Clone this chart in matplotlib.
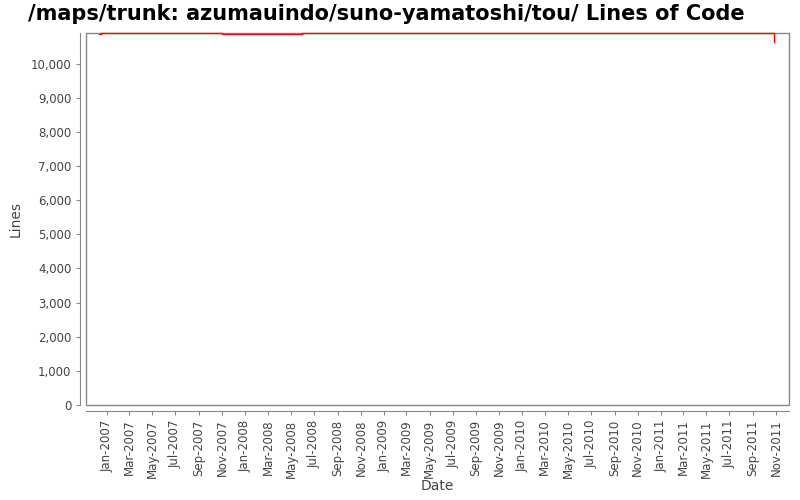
import matplotlib
matplotlib.use("Agg")
import matplotlib.pyplot as plt
import matplotlib.dates as mdates
from matplotlib.patches import Rectangle
from matplotlib.ticker import FuncFormatter, MultipleLocator
import numpy as np
import datetime as dt

dates = ["2006-12-12", "2006-12-16", "2007-10-31", "2008-05-30", "2011-10-27"]
lines = [10870, 10900, 10870, 10900, 10640]
title = "/maps/trunk: azumauindo/suno-yamatoshi/tou/ Lines of Code"

x = [dt.datetime.strptime(d, "%Y-%m-%d") for d in dates]

fig = plt.figure(figsize=(8, 5), dpi=100)
ax = fig.add_axes([86/800, 1-405/500, (789-86)/800, (405-33)/500])

ax.step(x, lines, where="post", color="#ff0000", lw=1.0, clip_on=False, zorder=3)

ax.set_xlim(dt.datetime(2006, 11, 7), dt.datetime(2011, 12, 5))
ax.set_ylim(0, 10900)

ax.yaxis.set_major_locator(MultipleLocator(1000))
ax.yaxis.set_major_formatter(FuncFormatter(lambda v, p: f"{int(v):,}"))
ax.xaxis.set_major_locator(mdates.MonthLocator(bymonth=[1, 3, 5, 7, 9, 11]))
ax.xaxis.set_major_formatter(mdates.DateFormatter("%b-%Y"))

gray = "#888888"
for s in ["top", "right"]:
    ax.spines[s].set_visible(False)
ax.spines["left"].set_position(("outward", 4))
ax.spines["bottom"].set_position(("outward", 4))
ax.spines["left"].set_color(gray)
ax.spines["bottom"].set_color(gray)
ax.add_patch(Rectangle((0, 0), 1, 1, transform=ax.transAxes, fill=False,
                       edgecolor=gray, lw=1.0, clip_on=False, zorder=2))

ax.tick_params(axis="both", colors=gray, length=3, width=0.8, labelsize=8.5,
               labelcolor="#444444")
ax.tick_params(axis="x", labelrotation=90)

ax.set_ylabel("Lines", fontsize=10, color="#444444", labelpad=6)
ax.set_xlabel("Date", fontsize=10, color="#444444", labelpad=1)
fig.text(386/800, 1-14/500, title, fontsize=15, fontweight="bold",
         ha="center", va="center")

fig.savefig("out.png", dpi=100)
